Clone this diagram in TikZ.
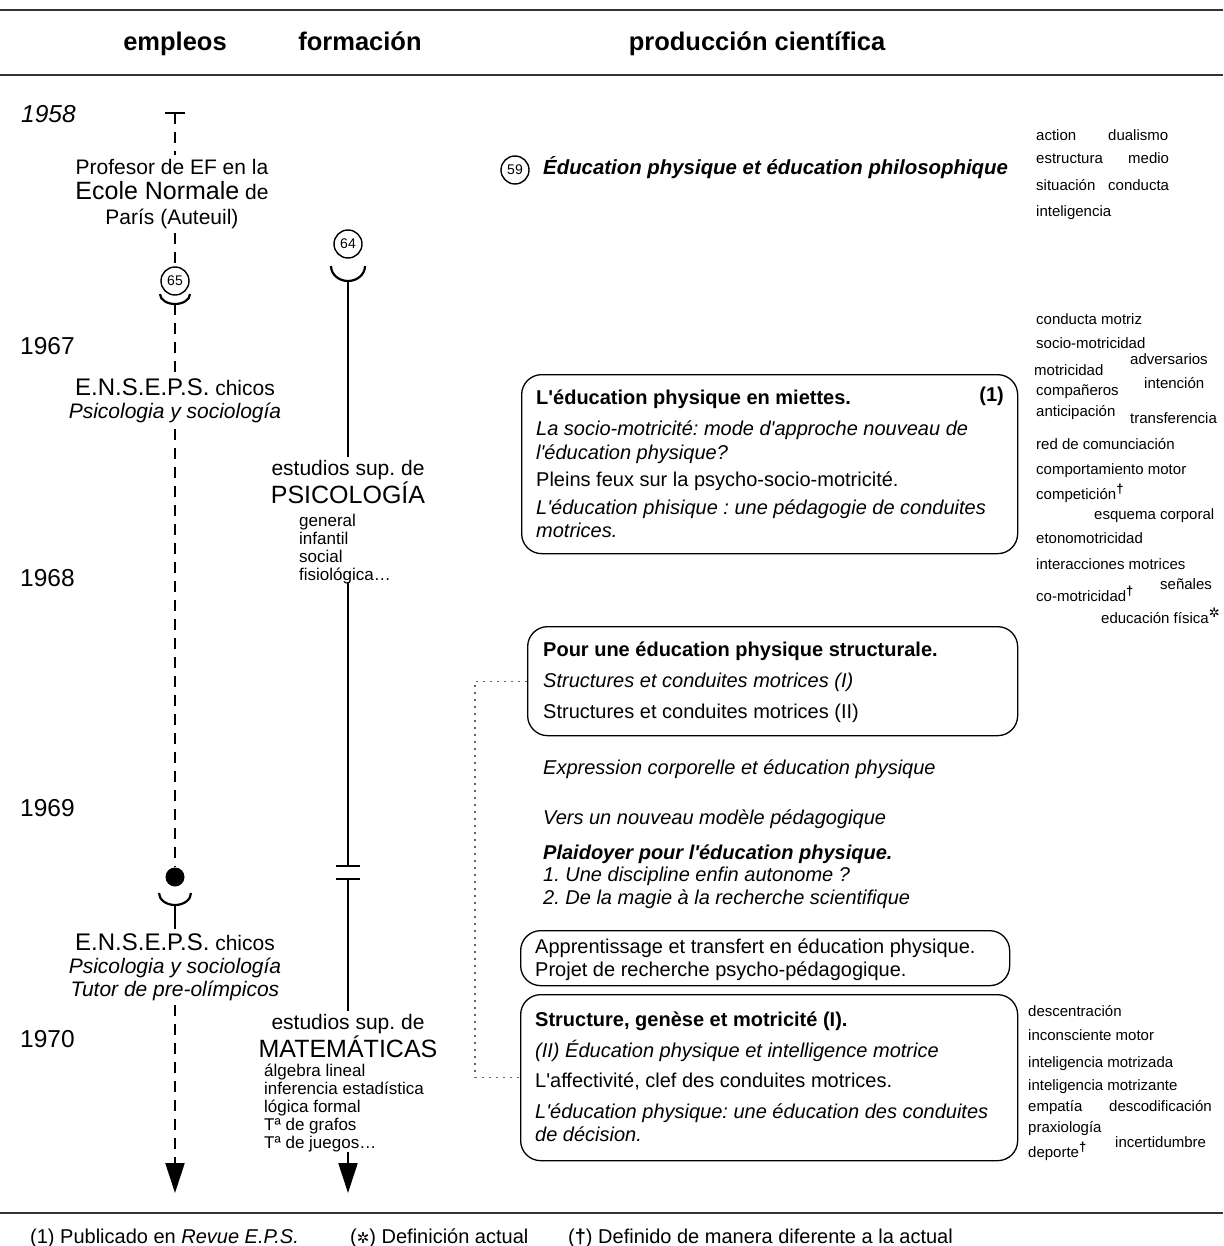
\documentclass[tikz,border=0pt]{standalone}
\usepackage{fontspec}
\setmainfont{Liberation Sans}
\newfontfamily\symfont{DejaVu Sans}
\usetikzlibrary{arrows.meta}
\newcommand{\fsz}[2]{\fontsize{#1}{#2}\selectfont}
\newcommand{\q}{\textquotesingle}
\frenchspacing
\begin{document}
\begin{tikzpicture}[x=1pt,y=-1pt,
  rule/.style={line width=1.6pt,draw=black!80},
  hdr/.style={inner sep=0,anchor=base,font=\fsz{25.5}{28}\bfseries},
  yr/.style={inner sep=0,anchor=base west,font=\fsz{24.5}{28}},
  txt/.style={inner sep=0,anchor=base west,font=\fsz{20}{24}},
  kw/.style={inner sep=0,anchor=base west,font=\fsz{15}{18}},
  lst/.style={inner sep=0,anchor=north west,align=left,font=\fsz{17}{18}},
  stack/.style={inner sep=4pt,align=center,font=\fsz{21}{25}},
  circ/.style={draw,circle,line width=1.4pt,minimum size=28pt,inner sep=0,font=\fsz{14}{14}},
  box/.style={draw,rounded corners=20pt,line width=1.3pt,anchor=north west,inner sep=0},
  dline/.style={line width=2.2pt,dash pattern=on 11pt off 8pt},
  sline/.style={line width=2.2pt},
  tip/.style={-{Triangle[length=30pt,width=19pt]}},
  conn/.style={line width=1.3pt,draw=black!60,dash pattern=on 2pt off 5pt}]
\useasboundingbox (0,0) rectangle (1223,1246);
% rules
\draw[rule] (0,10) -- (1223,10);
\draw[rule] (0,75) -- (1223,75);
\draw[rule] (0,1213) -- (1223,1213);
% headers
\node[hdr] (h1) at (175,51) {empleos};
\node[hdr] (h2) at (360,51) {formación};
\node[hdr] (h3) at (757,51) {producción científica};
% years
\node[yr] (y58) at (21,123) {\itshape 1958};
\node[yr] (y67) at (20,354) {1967};
\node[yr] (y68) at (20,586) {1968};
\node[yr] (y69) at (20,816) {1969};
\node[yr] (y70) at (20,1047) {1970};
% ---- line 1 (empleos)
\coordinate (t0) at (175,113);
\draw[sline] ([xshift=-10pt]t0) -- ([xshift=10pt]t0);
\node[stack] (prof) at (172,194) {Profesor de EF en la\\{\fsz{25}{26}Ecole Normale} de\\París (Auteuil)};
\draw[dline] (t0) -- (t0 |- prof.north);
\node[circ] (c65) at (175,281) {65};
\draw[dline] (t0 |- prof.south) -- (c65.north);
\draw[sline] (160,294) arc(180:360:15pt and 10pt);
\coordinate (cup1) at (175,304);
\node[stack,inner sep=6pt,font=\fsz{21}{23}] (ens1) at (175,401) {{\fsz{24}{23}E.N.S.E.P.S.} chicos\\\itshape Psicologia y sociología};
\draw[dline] (cup1) -- (cup1 |- ens1.north);
\node[fill,circle,inner sep=0,minimum size=19pt] (dot) at (175,877) {};
\draw[dline] (cup1 |- ens1.south) -- (dot.north);
\draw[sline] (159,893) arc(180:360:16pt and 12pt);
\coordinate (cup2) at (175,905);
\node[stack,font=\fsz{21}{23}] (ens2) at (175,967) {{\fsz{24}{23}E.N.S.E.P.S.} chicos\\\itshape Psicologia y sociología\\\itshape Tutor de pre-olímpicos};
\draw[sline] (cup2) -- (cup2 |- ens2.north);
\coordinate (end1) at (175,1193);
\draw[dline,tip] (cup2 |- ens2.south) -- (end1);
% ---- line 2 (formacion)
\node[circ] (c64) at (348,244) {64};
\draw[sline] (331,266) arc(180:360:17pt and 15pt);
\coordinate (cup3) at (348,281);
\node[stack] (psi) at (348,482) {estudios sup. de\\{\fsz{25}{27}PSICOLOGÍA}};
\draw[sline] (cup3) -- (cup3 |- psi.north);
\node[lst] (psil) at (299,514) {general\\infantil\\social\\fisiológica…};
\coordinate (br1) at (348,866);
\coordinate (br2) at (348,879);
\draw[sline] ([yshift=2pt]cup3 |- psil.south) -- (br1);
\draw[sline] ([xshift=-12pt]br1) -- ([xshift=12pt]br1);
\draw[sline] ([xshift=-12pt]br2) -- ([xshift=12pt]br2);
\node[stack] (mat) at (348,1036) {estudios sup. de\\{\fsz{25}{27}MATEMÁTICAS}};
\draw[sline] (br2) -- (br2 |- mat.north);
\node[lst] (matl) at (264,1064) {álgebra lineal\\inferencia estadística\\lógica formal\\Tª de grafos\\Tª de juegos…};
\coordinate (end2) at (348,1193);
\draw[sline,tip] (cup3 |- matl.south) -- (end2);
% ---- production
\node[circ] (c59) at (515,170) {59};
\node[txt,font=\fsz{20.4}{24}\bfseries\itshape] (p59) at (543,175) {Éducation physique et éducation philosophique};
% box 1
\node[box,minimum width=496pt,minimum height=179pt] (b1) at (521,374) {};
\node[txt,font=\fsz{20}{24}\bfseries] (b1a) at (536,404) {L\q éducation physique en miettes.};
\node[txt,anchor=base east,font=\fsz{20}{24}\bfseries] (b1n) at (1004,401) {(1)};
\node[txt,font=\fsz{20}{24}\itshape] (b1b) at (536,435) {La socio-motricité: mode d\q approche nouveau de};
\node[txt,font=\fsz{20}{24}\itshape] (b1c) at (536,459) {l\q éducation physique?};
\node[txt] (b1d) at (536,486) {Pleins feux sur la psycho-socio-motricité.};
\node[txt,font=\fsz{20}{24}\itshape] (b1e) at (536,514) {L\q éducation phisique : une pédagogie de conduites};
\node[txt,font=\fsz{20}{24}\itshape] (b1f) at (536,537) {motrices.};
% box 2
\node[box,minimum width=490pt,minimum height=109pt] (b2) at (527,626) {};
\node[txt,font=\fsz{20}{24}\bfseries] (b2a) at (543,656) {Pour une éducation physique structurale.};
\node[txt,font=\fsz{20}{24}\itshape] (b2b) at (543,687) {Structures et conduites motrices (I)};
\node[txt] (b2c) at (543,718) {Structures et conduites motrices (II)};
% free texts
\node[txt,font=\fsz{20}{24}\itshape] (f1) at (543,774) {Expression corporelle et éducation physique};
\node[txt,font=\fsz{20}{24}\itshape] (f2) at (543,824) {Vers un nouveau modèle pédagogique};
\node[txt,font=\fsz{20}{24}\bfseries\itshape] (f3) at (543,859) {Plaidoyer pour l\q éducation physique.};
\node[txt,font=\fsz{20}{24}\itshape] (f4) at (543,881) {1. Une discipline enfin autonome ?};
\node[txt,font=\fsz{20}{24}\itshape] (f5) at (543,904) {2. De la magie à la recherche scientifique};
% box 3
\node[box,minimum width=489pt,minimum height=55pt] (b3) at (520,930) {};
\node[txt] (b3a) at (535,953) {Apprentissage et transfert en éducation physique.};
\node[txt] (b3b) at (535,976) {Projet de recherche psycho-pédagogique.};
% box 4
\node[box,minimum width=497pt,minimum height=166pt] (b4) at (520,994) {};
\node[txt,font=\fsz{20}{24}\bfseries] (b4a) at (535,1026) {Structure, genèse et motricité (I).};
\node[txt,font=\fsz{20}{24}\itshape] (b4b) at (535,1057) {(II) Éducation physique et intelligence motrice};
\node[txt] (b4c) at (535,1087) {L\q affectivité, clef des conduites motrices.};
\node[txt,font=\fsz{20}{24}\itshape] (b4d) at (535,1118) {L\q éducation physique: une éducation des conduites};
\node[txt,font=\fsz{20}{24}\itshape] (b4e) at (535,1141) {de décision.};
% dotted connector
\draw[conn] (b2.west) -- ++(-52,0) |- (b4.west);
% keywords top
\node[kw] (k1) at (1036,141) {action};
\node[kw] (k2) at (1108,141) {dualismo};
\node[kw] (k3) at (1036,164) {estructura};
\node[kw] (k4) at (1128,164) {medio};
\node[kw] (k5) at (1036,191) {situación};
\node[kw] (k6) at (1108,191) {conducta};
\node[kw] (k7) at (1036,217) {inteligencia};
% keywords middle
\node[kw] (m1) at (1036,324) {conducta motriz};
\node[kw] (m2) at (1036,348) {socio-motricidad};
\node[kw] (m3) at (1130,364) {adversarios};
\node[kw] (m4) at (1034,375) {motricidad};
\node[kw] (m5) at (1144,388) {intención};
\node[kw] (m6) at (1036,395) {compañeros};
\node[kw] (m7) at (1036,416) {anticipación};
\node[kw] (m8) at (1130,423) {transferencia};
\node[kw] (m9) at (1036,449) {red de comunciación};
\node[kw] (m10) at (1036,474) {comportamiento motor};
\node[kw] (m11) at (1036,499) {competición\raisebox{6pt}{\fsz{13}{13}\bfseries †}};
\node[kw] (m12) at (1094,519) {esquema corporal};
\node[kw] (m13) at (1036,543) {etonomotricidad};
\node[kw] (m14) at (1036,569) {interacciones motrices};
\node[kw] (m15) at (1160,589) {señales};
\node[kw] (m16) at (1036,601) {co-motricidad\raisebox{6pt}{\fsz{13}{13}\bfseries †}};
\node[kw] (m17) at (1101,623) {educación física\raisebox{6pt}{\symfont\fsz{13}{13}✲}};
% keywords bottom
\node[kw] (n1) at (1028,1016) {descentración};
\node[kw] (n2) at (1028,1040) {inconsciente motor};
\node[kw] (n3) at (1028,1067) {inteligencia motrizada};
\node[kw] (n4) at (1028,1090) {inteligencia motrizante};
\node[kw] (n5) at (1028,1111) {empatía};
\node[kw] (n6) at (1109,1111) {descodificación};
\node[kw] (n7) at (1028,1132) {praxiología};
\node[kw] (n8) at (1115,1147) {incertidumbre};
\node[kw] (n9) at (1028,1157) {deporte\raisebox{6pt}{\fsz{13}{13}\bfseries †}};
% footer
\node[txt,font=\fsz{20}{22}] (ft1) at (30,1243) {(1) Publicado en \textit{Revue E.P.S.}};
\node[txt,font=\fsz{20}{22}] (ft2) at (350,1243) {({\symfont\fsz{15}{15}✲}) Definición actual};
\node[txt,font=\fsz{20}{22}] (ft3) at (568,1243) {(\textbf{†}) Definido de manera diferente a la actual};
\end{tikzpicture}
\end{document}
